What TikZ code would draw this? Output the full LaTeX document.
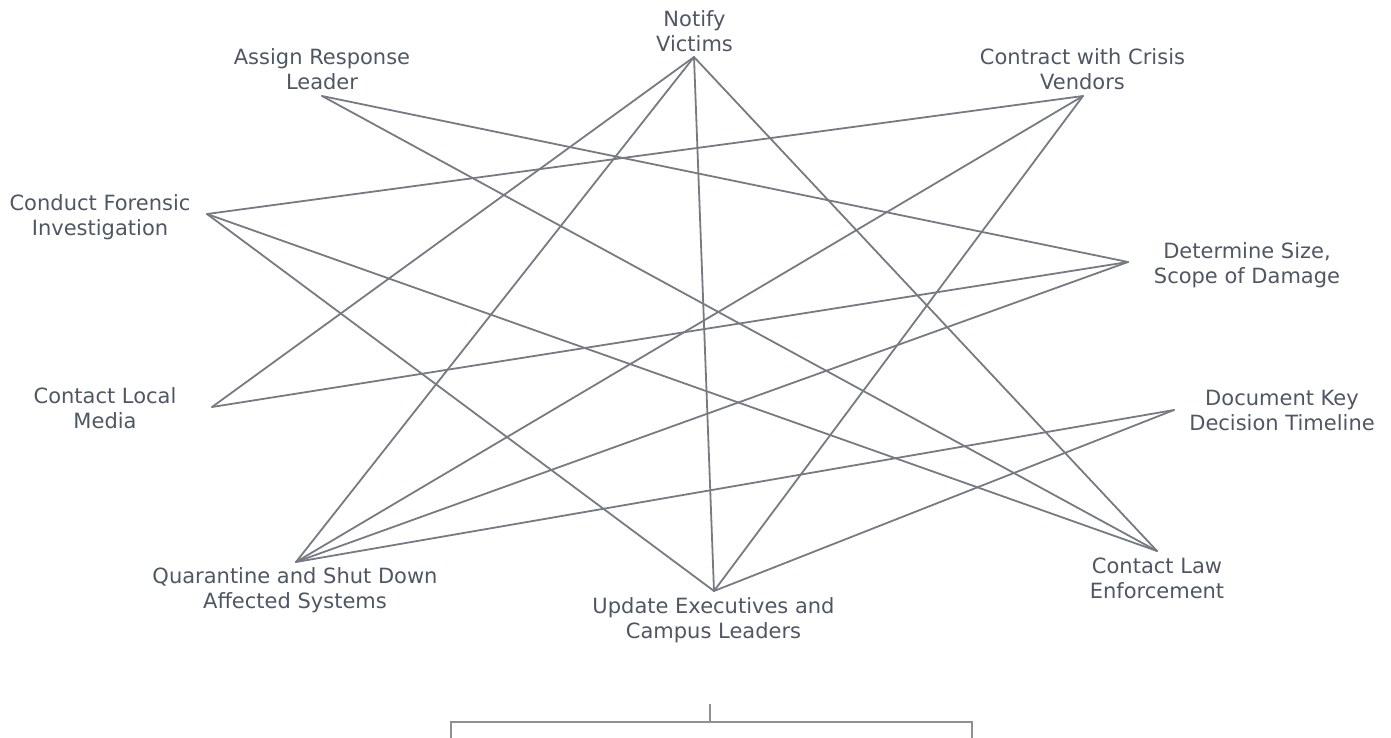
\documentclass[tikz,border=0pt]{standalone}
\usepackage{fontspec}
\setmainfont{DejaVu Sans}
\definecolor{labeltext}{HTML}{4E5763}
\definecolor{linkgray}{HTML}{767B83}
\definecolor{bracketgray}{HTML}{8C9097}
\begin{document}
\begin{tikzpicture}[x=1pt, y=-1pt,
  steplabel/.style={align=center, inner sep=0pt, text=labeltext,
    font=\fontsize{21}{25}\selectfont},
  link/.style={draw=linkgray, line width=1.8pt, line cap=round, line join=round},
  bracketline/.style={draw=bracketgray, line width=1.4pt}]
\useasboundingbox (0,0) rectangle (1391,738);

% meeting points of the connectors
\coordinate (notify)     at (694,57);
\coordinate (assign)     at (322,96);
\coordinate (contract)   at (1083,96);
\coordinate (forensic)   at (207,214);
\coordinate (determine)  at (1128,262);
\coordinate (media)      at (212,407);
\coordinate (document)   at (1174,410);
\coordinate (quarantine) at (296,562);
\coordinate (law)        at (1157,551);
\coordinate (update)     at (714,591);

% labels
\node[steplabel] (notify-t)     at (694.5,34.5) {\strut Notify\\\strut Victims};
\node[steplabel] (assign-t)     at (322,72.5)   {\strut Assign Response\\\strut Leader};
\node[steplabel] (contract-t)   at (1082.5,72.5){\strut Contract with Crisis\\\strut Vendors};
\node[steplabel] (forensic-t)   at (100,217.5)  {\strut Conduct Forensic\\\strut Investigation};
\node[steplabel] (determine-t)  at (1247,265.5) {\strut Determine Size,\\\strut Scope of Damage};
\node[steplabel] (media-t)      at (105,410.5)  {\strut Contact Local\\\strut Media};
\node[steplabel] (document-t)   at (1282,412.5) {\strut Document Key\\\strut Decision Timeline};
\node[steplabel] (quarantine-t) at (295,590.5)  {\strut Quarantine and Shut Down\\\strut Affected Systems};
\node[steplabel] (law-t)        at (1157,580.5) {\strut Contact Law\\\strut Enforcement};
\node[steplabel] (update-t)     at (713.5,620.5){\strut Update Executives and\\\strut Campus Leaders};

% connectors
\draw[link] (notify) -- (media);
\draw[link] (notify) -- (quarantine);
\draw[link] (notify) -- (update);
\draw[link] (notify) -- (law);
\draw[link] (assign) -- (determine);
\draw[link] (assign) -- (law);
\draw[link] (contract) -- (forensic);
\draw[link] (contract) -- (quarantine);
\draw[link] (contract) -- (update);
\draw[link] (forensic) -- (update);
\draw[link] (forensic) -- (law);
\draw[link] (determine) -- (media);
\draw[link] (determine) -- (quarantine);
\draw[link] (document) -- (quarantine);
\draw[link] (document) -- (update);

% bracket at the foot
\coordinate (br-tick) at (710,704);
\coordinate (br-mid)  at (710,722);
\coordinate (br-l)    at (451,722);
\coordinate (br-r)    at (972,722);
\coordinate (br-ld)   at (451,738);
\coordinate (br-rd)   at (972,738);
\draw[bracketline] (br-ld) -- (br-l) -- (br-r) -- (br-rd);
\draw[bracketline] (br-tick) -- (br-mid);
\end{tikzpicture}
\end{document}
